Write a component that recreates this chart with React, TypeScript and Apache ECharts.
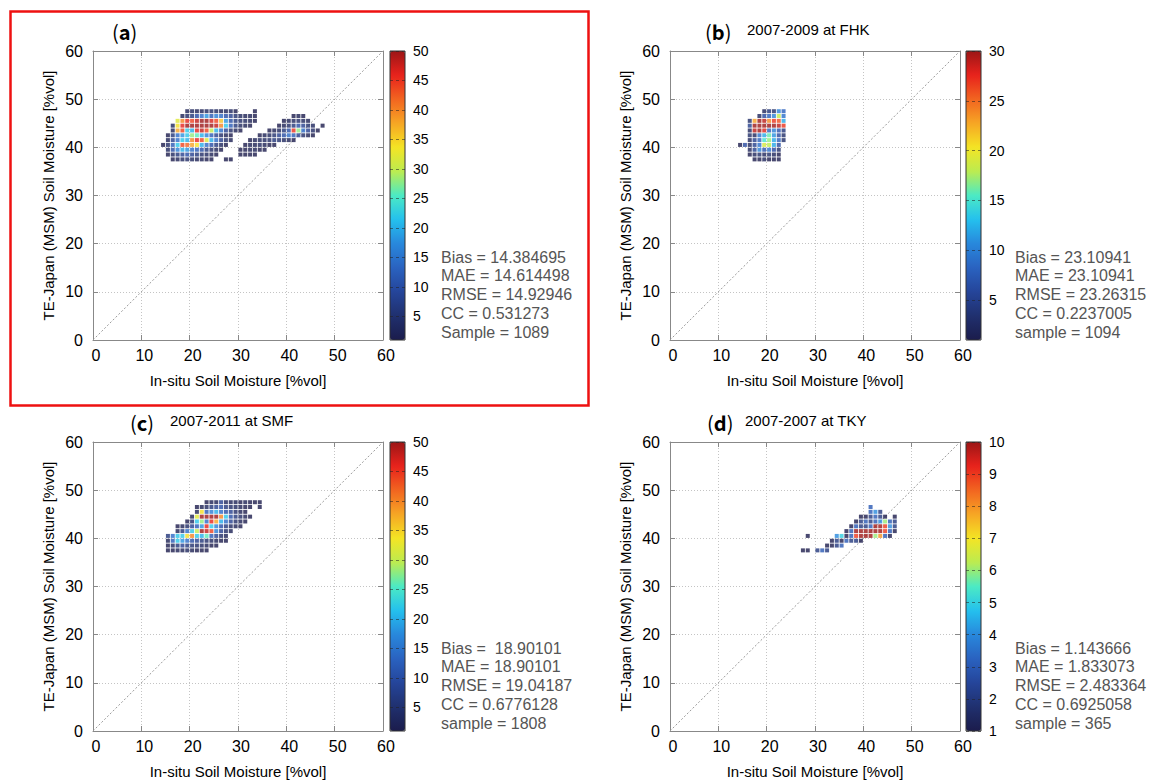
import React, { useEffect, useRef } from "react";
import * as echarts from "echarts";

// ---------------- data ----------------
// each row: [y bin, first x bin, counts for consecutive x bins...]
const rowsA: number[][] = [
  [47, 19, 2, 3, 2, 2, 3, 4, 3, 2, 2, 3, 1, 0, 0, 0, 1],
  [46, 18, 2, 4, 6, 10, 14, 18, 12, 16, 14, 10, 8, 5, 3, 2, 2, 1],
  [45, 17, 32, 40, 46, 44, 48, 50, 50, 47, 44, 36, 18, 10, 6, 4, 3, 2, 1],
  [44, 16, 3, 34, 46, 50, 50, 50, 50, 50, 50, 48, 40, 22, 12, 6, 3, 2, 1],
  [43, 16, 2, 38, 44, 22, 20, 46, 48, 44, 30, 20, 14, 8, 4, 2, 1],
  [42, 15, 1, 6, 14, 18, 22, 28, 26, 20, 16, 12, 8, 4, 2, 1],
  [41, 15, 2, 8, 14, 22, 20, 40, 46, 44, 32, 20, 14, 8, 4, 2],
  [40, 14, 1, 4, 12, 22, 44, 42, 38, 34, 20, 14, 10, 6, 3, 1],
  [39, 15, 3, 10, 16, 20, 18, 14, 12, 10, 6, 4, 2, 1],
  [38, 15, 1, 3, 6, 8, 10, 8, 6, 4, 3, 2, 1],
  [37, 16, 1, 2, 3, 4, 3, 2, 2, 1, 1],
  // second cluster
  [46, 41, 1, 2, 1],
  [45, 39, 1, 2, 3, 4, 3, 2],
  [44, 38, 1, 2, 4, 6, 10, 8, 5, 3, 0, 1],
  [43, 36, 1, 2, 3, 6, 10, 45, 28, 14, 8, 4, 1],
  [42, 34, 1, 2, 3, 5, 8, 10, 14, 12, 8, 4, 2, 1],
  [41, 32, 1, 2, 3, 3, 4, 6, 5, 3, 2, 1],
  [40, 31, 1, 2, 2, 3, 2, 1, 1],
  [39, 30, 1, 1, 2, 2, 1, 1],
  [38, 30, 1, 1, 1, 1],
  [37, 27, 1, 1],
];

const rowsB: number[][] = [
  [47, 19, 2, 4, 3, 10, 8],
  [46, 18, 2, 6, 8, 10, 18, 9],
  [45, 16, 3, 23, 30, 29, 24, 27, 26, 12],
  [44, 16, 5, 30, 30, 30, 30, 30, 29, 27],
  [43, 16, 2, 29, 30, 28, 8, 10, 7, 4],
  [42, 16, 3, 2, 9, 12, 16, 11, 6, 3],
  [41, 16, 2, 5, 8, 15, 17, 12, 8, 3],
  [40, 14, 1, 6, 2, 5, 9, 19, 18, 12, 6],
  [39, 16, 2, 5, 10, 7, 9, 6, 3],
  [38, 16, 1, 2, 3, 2, 3, 2, 1],
  [37, 17, 1, 1, 2, 1, 1, 1],
];

const rowsC: number[][] = [
  [47, 23, 1, 2, 2, 8, 3, 2, 2, 1, 2, 1, 1, 1],
  [46, 21, 1, 2, 3, 6, 8, 10, 6, 4, 3, 2, 1, 1, 0, 1],
  [45, 21, 2, 34, 12, 16, 20, 14, 10, 8, 4, 2, 1],
  [44, 20, 2, 32, 50, 50, 50, 50, 40, 22, 10, 6, 4, 2, 1],
  [43, 19, 1, 4, 22, 28, 14, 46, 38, 20, 14, 8, 4, 2, 1],
  [42, 17, 1, 2, 4, 8, 12, 18, 46, 22, 16, 10, 6, 3, 2, 1],
  [41, 17, 2, 6, 14, 22, 30, 50, 48, 44, 16, 8, 4, 2],
  [40, 15, 6, 14, 22, 22, 34, 40, 22, 20, 26, 12, 8, 4, 2],
  [39, 15, 2, 12, 22, 18, 14, 10, 8, 6, 4, 3, 2, 1, 1],
  [38, 15, 1, 3, 6, 8, 6, 5, 4, 3, 2, 1, 1],
  [37, 15, 1, 1, 2, 2, 3, 2, 1, 1, 1],
];

const rowsD: number[][] = [
  [46, 41, 3],
  [45, 41, 3, 4, 2],
  [44, 39, 1, 1, 2, 3, 2, 1, 0, 1],
  [43, 38, 1, 2, 3, 2, 3, 4, 6, 3, 2],
  [42, 37, 1, 3, 2, 2, 3, 10, 10, 9, 4, 2],
  [41, 36, 1, 3, 10, 10, 10, 10, 10, 10, 9, 3, 1],
  [40, 28, 1, 0, 0, 0, 0, 0, 4, 5, 1, 3, 9, 10, 10, 10, 6, 8, 3, 1],
  [39, 33, 1, 2, 1, 3, 2, 2, 1],
  [38, 32, 1, 1, 2, 3],
  [37, 27, 1, 1, 0, 2, 3, 2],
];

const cbTicksA = [5, 10, 15, 20, 25, 30, 35, 40, 45, 50];
const cbTicksB = [5, 10, 15, 20, 25, 30];
const cbTicksC = [5, 10, 15, 20, 25, 30, 35, 40, 45, 50];
const cbTicksD = [1, 2, 3, 4, 5, 6, 7, 8, 9, 10];
const cbRangeA = [1, 50];
const cbRangeB = [1, 30];
const cbRangeC = [1, 50];
const cbRangeD = [1, 10];

const statsA = ["Bias = 14.384695", "MAE = 14.614498", "RMSE = 14.92946", "CC = 0.531273", "Sample = 1089"];
const statsB = ["Bias = 23.10941", "MAE = 23.10941", "RMSE = 23.26315", "CC = 0.2237005", "sample = 1094"];
const statsC = ["Bias =  18.90101", "MAE = 18.90101", "RMSE = 19.04187", "CC = 0.6776128", "sample = 1808"];
const statsD = ["Bias = 1.143666", "MAE = 1.833073", "RMSE = 2.483364", "CC = 0.6925058", "sample = 365"];

const tags = ["a", "b", "c", "d"];
const subtitles = ["", "2007-2009 at FHK", "2007-2011 at SMF", "2007-2007 at TKY"];

const AXIS_MIN = 0;
const AXIS_MAX = 60;
const AXIS_STEP = 10;
const diagonal = [[AXIS_MIN, AXIS_MIN], [AXIS_MAX, AXIS_MAX]];

const X_NAME = "In-situ Soil Moisture [%vol]";
const Y_NAME = "TE-Japan (MSM) Soil Moisture [%vol]";

// jet-like colour map
const JET = [
  "#1b1c4c", "#20306e", "#25459a", "#2a62c0", "#2888dc", "#24c0ee", "#4ceac4",
  "#bcec50", "#f4e424", "#f6a624", "#f26420", "#e8221c", "#9c1616",
];

const FONT = "'Liberation Sans', Arial, sans-serif";
const JFONT = "'Noto Sans CJK JP', 'Noto Sans', sans-serif";

function expand(rows: number[][]) {
  const out: number[][] = [];
  rows.forEach((r) => {
    const y = r[0];
    const x0 = r[1];
    r.slice(2).forEach((v, i) => {
      if (v > 0) out.push([x0 + i + 0.5, y + 0.5, v]);
    });
  });
  return out;
}

const layout = [
  { left: 93, top: 51, cb: 390, statsX: 441, tagX: 112, subX: 0 },
  { left: 670, top: 51, cb: 966, statsX: 1015, tagX: 705, subX: 747 },
  { left: 93, top: 442, cb: 390, statsX: 441, tagX: 130, subX: 170 },
  { left: 670, top: 442, cb: 966, statsX: 1015, tagX: 707, subX: 745 },
];
const PW = 290;
const PH = 289;

export default function App() {
  const ref = useRef<HTMLDivElement>(null);
  useEffect(() => {
    document.body.style.margin = "0";
    if (!ref.current) return;
    const chart = echarts.init(ref.current, null, { renderer: "svg" });
    const allRows = [rowsA, rowsB, rowsC, rowsD];
    const ranges = [cbRangeA, cbRangeB, cbRangeC, cbRangeD];
    const ticks = [cbTicksA, cbTicksB, cbTicksC, cbTicksD];
    const stats = [statsA, statsB, statsC, statsD];

    const grid: any[] = [];
    const xAxis: any[] = [];
    const yAxis: any[] = [];
    const series: any[] = [];
    const visualMap: any[] = [];
    const graphic: any[] = [];

    layout.forEach((L) => {
      grid.push({ left: L.left, top: L.top, width: PW, height: PH, containLabel: false });
    });
    layout.forEach((L) => {
      grid.push({
        left: L.cb, top: L.top, width: 15, height: PH, show: true,
        borderColor: "#333", borderWidth: 1, backgroundColor: "transparent", z: 10,
      });
    });

    const lineCol = "#888";
    layout.forEach((L, i) => {
      xAxis.push({
        gridIndex: i, type: "value", min: AXIS_MIN, max: AXIS_MAX, interval: AXIS_STEP, position: "bottom",
        axisLine: { show: true, onZero: false, lineStyle: { color: lineCol } },
        axisTick: { show: true, inside: true, length: 5, lineStyle: { color: lineCol } },
        axisLabel: { fontSize: 16, color: "#000", margin: 7, fontFamily: FONT, padding: [0, 0, 0, 6] },
        splitLine: { show: true, lineStyle: { color: "#c4c4c4", type: [1, 2], width: 1 } },
        name: X_NAME, nameLocation: "middle", nameGap: 33,
        nameTextStyle: { fontSize: 15, color: "#000", fontFamily: FONT },
      });
      xAxis.push({
        gridIndex: i, type: "value", min: AXIS_MIN, max: AXIS_MAX, interval: AXIS_STEP, position: "top",
        axisLine: { show: true, onZero: false, lineStyle: { color: lineCol } },
        axisTick: { show: true, inside: true, length: 5, lineStyle: { color: lineCol } },
        axisLabel: { show: false }, splitLine: { show: false },
      });
      yAxis.push({
        gridIndex: i, type: "value", min: AXIS_MIN, max: AXIS_MAX, interval: AXIS_STEP, position: "left",
        axisLine: { show: true, onZero: false, lineStyle: { color: lineCol } },
        axisTick: { show: true, inside: true, length: 5, lineStyle: { color: lineCol } },
        axisLabel: { fontSize: 16, color: "#000", margin: 10, fontFamily: FONT },
        splitLine: { show: true, lineStyle: { color: "#c4c4c4", type: [1, 2], width: 1 } },
        name: Y_NAME, nameLocation: "middle", nameGap: 37,
        nameTextStyle: { fontSize: 15, color: "#000", fontFamily: FONT },
      });
      yAxis.push({
        gridIndex: i, type: "value", min: AXIS_MIN, max: AXIS_MAX, interval: AXIS_STEP, position: "right",
        axisLine: { show: true, onZero: false, lineStyle: { color: lineCol } },
        axisTick: { show: true, inside: true, length: 5, lineStyle: { color: lineCol } },
        axisLabel: { show: false }, splitLine: { show: false },
      });
    });
    layout.forEach((L, i) => {
      const [mn, mx] = ranges[i];
      xAxis.push({ gridIndex: 4 + i, type: "value", show: false, min: 0, max: 1 });
      yAxis.push({
        gridIndex: 4 + i, type: "value", min: mn, max: mx, position: "right", z: 12,
        axisLine: { show: false },
        axisTick: { show: false, customValues: ticks[i] },
        axisLabel: { fontSize: 14, color: "#000", margin: 8, fontFamily: FONT, customValues: ticks[i] },
        splitLine: { show: true, lineStyle: { color: "#222", type: [3, 3], width: 1, opacity: 0.55 } },
      });
    });

    layout.forEach((L, i) => {
      series.push({
        type: "line", xAxisIndex: 2 * i, yAxisIndex: 2 * i, data: diagonal,
        showSymbol: false, symbol: "none", silent: true, z: 1,
        lineStyle: { color: "#9a9a9a", width: 1, type: [2, 2] },
      });
      series.push({
        type: "scatter", xAxisIndex: 2 * i, yAxisIndex: 2 * i, data: expand(allRows[i]),
        symbol: "rect", symbolSize: 4, z: 3, silent: true,
      });
      visualMap.push({
        type: "continuous", seriesIndex: 2 * i + 1, dimension: 2,
        min: ranges[i][0], max: ranges[i][1], inRange: { color: JET },
        calculable: false, orient: "vertical", left: L.cb, top: L.top,
        itemWidth: 15, itemHeight: PH, padding: 0, hoverLink: false, z: 2,
      });
      graphic.push({
        type: "text", left: L.tagX, top: L.top - 30,
        style: {
          text: "{p|(}{b|" + tags[i] + "}{p|)}",
          rich: {
            p: { fontSize: 20, fontFamily: JFONT, fill: "#000" },
            b: { fontSize: 20, fontFamily: JFONT, fontWeight: "bold", fill: "#000" },
          },
        },
      });
      if (subtitles[i]) {
        graphic.push({
          type: "text", left: L.subX, top: L.top - 29,
          style: { text: subtitles[i], fontSize: 15, fontFamily: FONT, fill: "#000" },
        });
      }
      stats[i].forEach((s, k) => {
        graphic.push({
          type: "text", x: L.statsX, y: L.top + 206 + k * 18.8,
          style: {
            text: s, fontSize: 16, fontFamily: FONT, fill: "#555",
            verticalAlign: "middle", align: "left",
          },
        });
      });
    });

    graphic.push({
      type: "rect", left: 8, top: 9, z: 100,
      shape: { width: 578, height: 394 },
      style: { fill: "none", stroke: "#ee1111", lineWidth: 2.5 },
    });

    chart.setOption({
      animation: false,
      backgroundColor: "#fff",
      grid, xAxis, yAxis, series, visualMap, graphic,
    });
    return () => chart.dispose();
  }, []);
  return <div ref={ref} style={{ width: 1162, height: 783 }} />;
}
